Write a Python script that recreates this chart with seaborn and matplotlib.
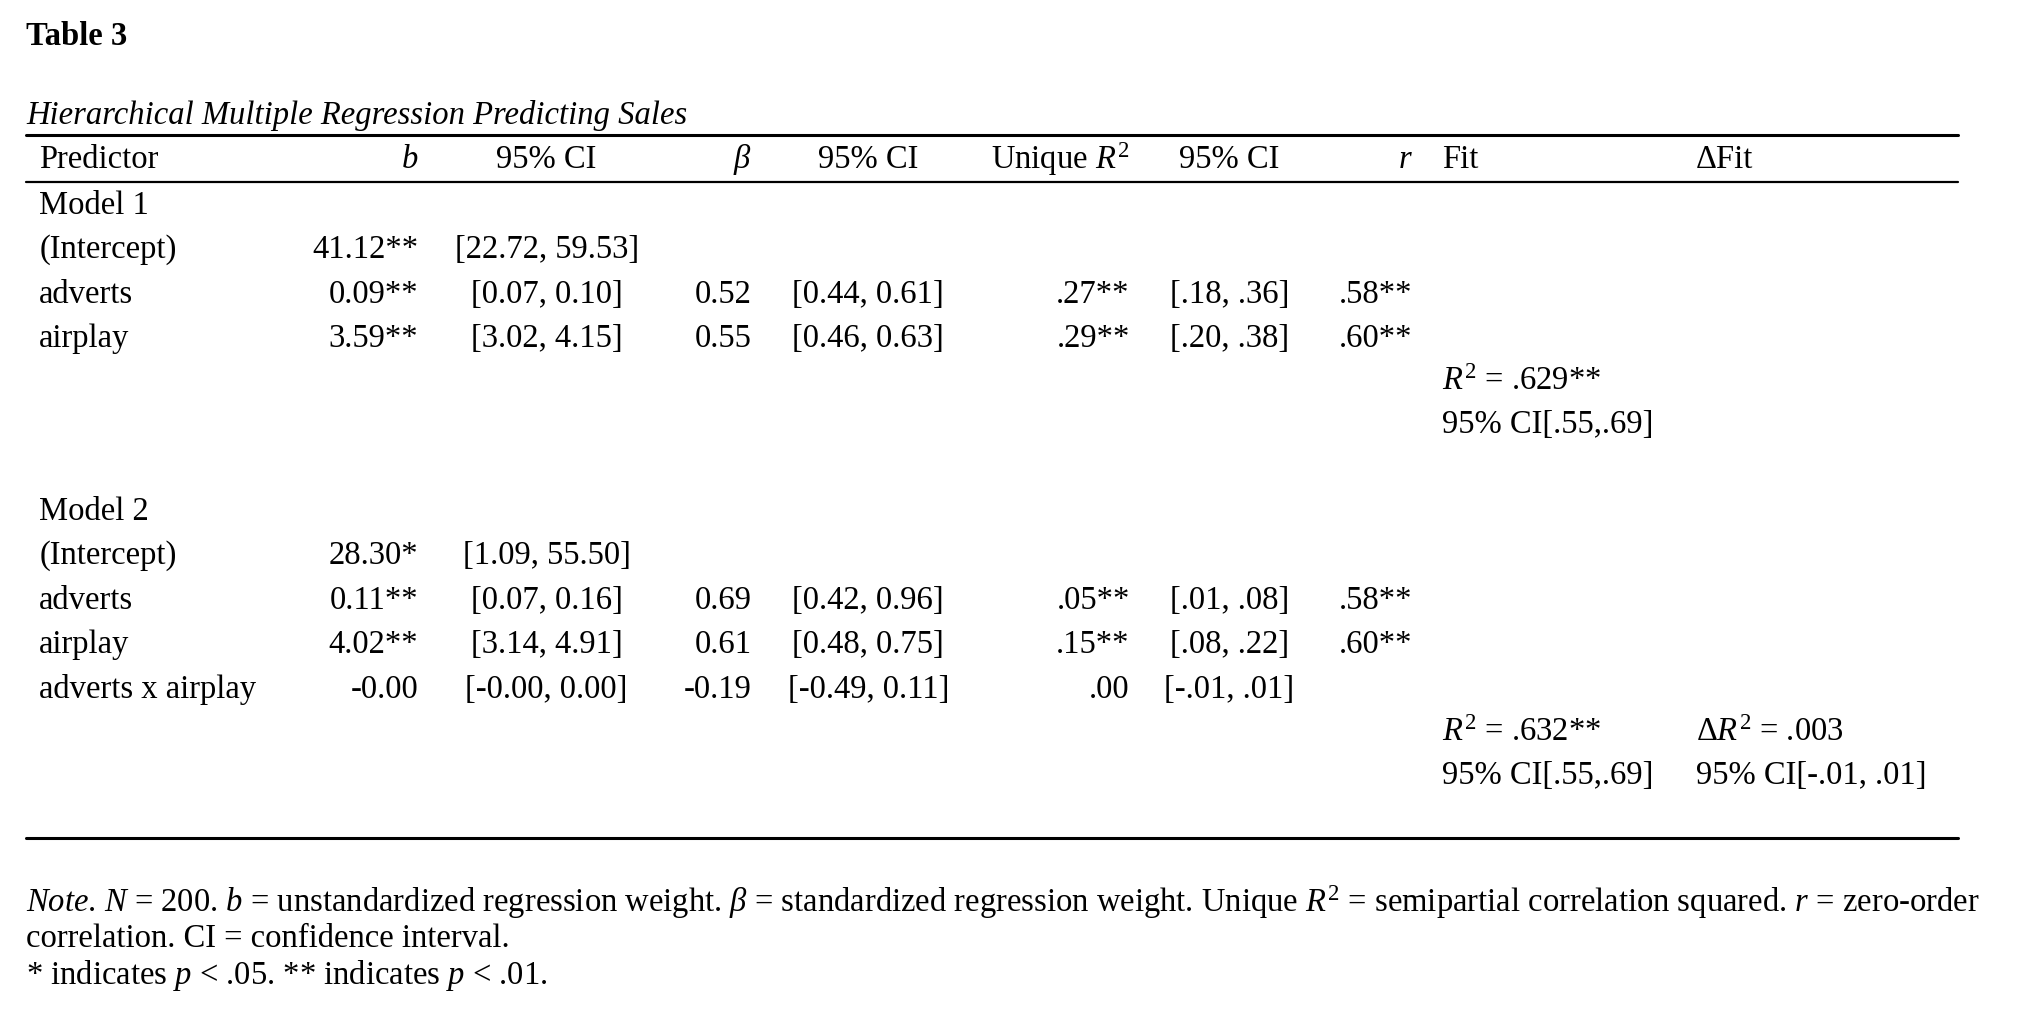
import matplotlib
matplotlib.use("Agg")
import matplotlib.pyplot as plt
import seaborn as sns

# ─── DATA ────────────────────────────────────────────────────────────────────
headers = ["Predictor", "$b$", "95% CI", r"$\beta$", "95% CI", "Unique $R^2$", "95% CI", "$r$", "Fit", "ΔFit"]

m1_pred = ["(Intercept)", "adverts", "airplay"]
m1_b = ["41.12**", "0.09**", "3.59**"]
m1_b_ci = ["[22.72, 59.53]", "[0.07, 0.10]", "[3.02, 4.15]"]
m1_beta = ["", "0.52", "0.55"]
m1_beta_ci = ["", "[0.44, 0.61]", "[0.46, 0.63]"]
m1_ur2 = ["", ".27**", ".29**"]
m1_ur2_ci = ["", "[.18, .36]", "[.20, .38]"]
m1_r = ["", ".58**", ".60**"]
m1_fit = ["$R^2$ = .629**", "95% CI[.55,.69]"]

m2_pred = ["(Intercept)", "adverts", "airplay", "adverts x airplay"]
m2_b = ["28.30*", "0.11**", "4.02**", "-0.00"]
m2_b_ci = ["[1.09, 55.50]", "[0.07, 0.16]", "[3.14, 4.91]", "[-0.00, 0.00]"]
m2_beta = ["", "0.69", "0.61", "-0.19"]
m2_beta_ci = ["", "[0.42, 0.96]", "[0.48, 0.75]", "[-0.49, 0.11]"]
m2_ur2 = ["", ".05**", ".15**", ".00"]
m2_ur2_ci = ["", "[.01, .08]", "[.08, .22]", "[-.01, .01]"]
m2_r = ["", ".58**", ".60**", ""]
m2_fit = ["$R^2$ = .632**", "95% CI[.55,.69]"]
m2_dfit = [r"$\Delta R^2$ = .003", "95% CI[-.01, .01]"]

notes = [
    r"$Note$. $N$ = 200. $b$ = unstandardized regression weight. $\beta$ = standardized regression weight. Unique $R^2$ = semipartial correlation squared. $r$ = zero-order",
    "correlation. CI = confidence interval.",
    "* indicates $p$ < .05. ** indicates $p$ < .01.",
]

# ─── STYLE ───────────────────────────────────────────────────────────────────
sns.set_theme(style="white")
plt.rcParams["font.family"] = ["Liberation Serif", "DejaVu Serif"]
plt.rcParams["mathtext.fontset"] = "custom"
plt.rcParams["mathtext.rm"] = "Liberation Serif"
plt.rcParams["mathtext.it"] = "Liberation Serif:italic"
plt.rcParams["mathtext.bf"] = "Liberation Serif:bold"

FS = 23.5
W, H = 1560, 776

fig = plt.figure(figsize=(20.4, 10.15), dpi=100)
ax = fig.add_axes([0, 0, 1, 1])
ax.set_xlim(0, W)
ax.set_ylim(H, 0)
ax.axis("off")

# column x positions and alignments
cols = [(30, "left"), (320, "right"), (418, "center"), (575, "right"), (664, "center"),
        (864, "right"), (940, "center"), (1080, "right"), (1103, "left"), (1297, "left")]

def put(x, y, s, ha="left", **kw):
    ax.text(x, y, s, ha=ha, va="center", fontsize=FS, color="black", **kw)

put(20, 28, "Table 3", fontweight="bold")
put(20, 88, "Hierarchical Multiple Regression Predicting Sales", style="italic")

for yl in (103, 139, 641):
    ax.plot([20, 1497], [yl, yl], color="black", lw=2.2 if yl != 139 else 1.6)

for (x, ha), h in zip(cols, headers):
    put(x, 122, h, ha)

def block(y0, label, columns, fit, dfit=None):
    put(cols[0][0], y0, label)
    n = len(columns[0])
    for i in range(n):
        y = y0 + 34 * (i + 1)
        for (x, ha), col in zip(cols[:8], columns):
            if col[i]:
                put(x, y, col[i], ha)
    yf = y0 + 34 * (n + 1) - 1
    for j, s in enumerate(fit):
        put(cols[8][0], yf + 33 * j, s)
    if dfit:
        for j, s in enumerate(dfit):
            put(cols[9][0], yf + 33 * j, s)

block(157, "Model 1", [m1_pred, m1_b, m1_b_ci, m1_beta, m1_beta_ci, m1_ur2, m1_ur2_ci, m1_r], m1_fit)
block(391, "Model 2", [m2_pred, m2_b, m2_b_ci, m2_beta, m2_beta_ci, m2_ur2, m2_ur2_ci, m2_r], m2_fit, m2_dfit)

for i, s in enumerate(notes):
    put(20, 690 + 28 * i, s)

fig.savefig("out.png", dpi=100, facecolor="white")
